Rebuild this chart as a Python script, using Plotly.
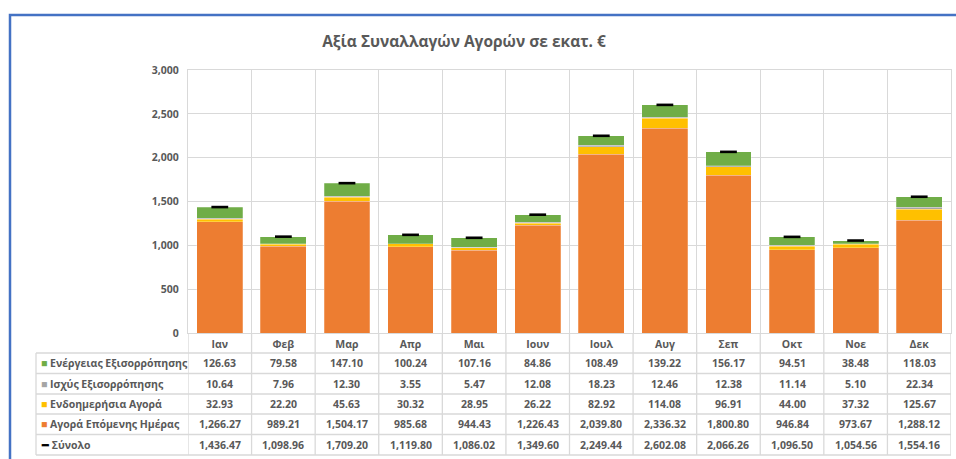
import plotly.graph_objects as go

# μήνες και τιμές (εκατ. €)
months = ['Ιαν', 'Φεβ', 'Μαρ', 'Απρ', 'Μαι', 'Ιουν', 'Ιουλ', 'Αυγ', 'Σεπ', 'Οκτ', 'Νοε', 'Δεκ']
energeia = [126.63, 79.58, 147.10, 100.24, 107.16, 84.86, 108.49, 139.22, 156.17, 94.51, 38.48, 118.03]
isxys = [10.64, 7.96, 12.30, 3.55, 5.47, 12.08, 18.23, 12.46, 12.38, 11.14, 5.10, 22.34]
endohm = [32.93, 22.20, 45.63, 30.32, 28.95, 26.22, 82.92, 114.08, 96.91, 44.00, 37.32, 125.67]
agora = [1266.27, 989.21, 1504.17, 985.68, 944.43, 1226.43, 2039.80, 2336.32, 1800.80, 946.84, 973.67, 1288.12]
synolo = [1436.47, 1098.96, 1709.20, 1119.80, 1086.02, 1349.60, 2249.44, 2602.08, 2066.26, 1096.50, 1054.56, 1554.16]

names = ['Ενέργειας Εξισορρόπησης', 'Ισχύς Εξισορρόπησης', 'Ενδοημερήσια Αγορά',
         'Αγορά Επόμενης Ημέρας', 'Σύνολο']

GREEN, GRAY, YELLOW, ORANGE = '#70AD47', '#A5A5A5', '#FFC000', '#ED7D31'
TXT = '#595959'
GRID = '#D9D9D9'
FONT = 'Open Sans'

# περιοχή γραφήματος σε pixels
W, H = 956, 459
L, R, T, B = 188, 951, 70, 333


def px_y(p):
    return (B - p) / (B - T)


def px_x(p):
    return (p - L) / (R - L)


fig = go.Figure()
bar_line = dict(color='rgba(255,255,255,0.3)', width=0.8)
fig.add_trace(go.Bar(x=months, y=agora, name=names[3], marker=dict(color=ORANGE, line=bar_line)))
fig.add_trace(go.Bar(x=months, y=endohm, name=names[2], marker=dict(color=YELLOW, line=bar_line)))
fig.add_trace(go.Bar(x=months, y=isxys, name=names[1], marker=dict(color=GRAY, line=bar_line)))
fig.add_trace(go.Bar(x=months, y=energeia, name=names[0], marker=dict(color=GREEN, line=bar_line)))
fig.add_trace(go.Scatter(x=months, y=synolo, name=names[4], mode='markers',
                         marker=dict(symbol='line-ew', size=12, color='black',
                                     line=dict(color='black', width=2.6))))

shapes = []
# πλαίσιο
shapes.append(dict(type='rect', xref='paper', yref='paper', x0=px_x(10), x1=px_x(990),
                   y0=px_y(500), y1=px_y(15), line=dict(color='#4472C4', width=2.5), layer='below'))
# γραμμές πίνακα
row_lines = [353, 373.5, 394, 414, 434.5, 455]
for p in row_lines:
    shapes.append(dict(type='line', xref='paper', yref='paper', x0=px_x(36), x1=1,
                       y0=px_y(p), y1=px_y(p), line=dict(color=GRID, width=1.3)))
shapes.append(dict(type='line', xref='paper', yref='paper', x0=px_x(36), x1=px_x(36),
                   y0=px_y(353), y1=px_y(455), line=dict(color=GRID, width=1.3)))
for i in range(len(months) + 1):
    shapes.append(dict(type='line', xref='x', yref='paper', x0=i - 0.5, x1=i - 0.5,
                       y0=px_y(B), y1=px_y(455), line=dict(color=GRID, width=1.3)))

# κείμενα πίνακα
rows = [energeia, isxys, endohm, agora, synolo]
keys = [GREEN, GRAY, YELLOW, ORANGE, 'black']
cell_font = dict(family=FONT, size=10.5, color=TXT, weight='bold')
annotations = []
for r, (vals, name, kc) in enumerate(zip(rows, names, keys)):
    yc = px_y((row_lines[r] + row_lines[r + 1]) / 2)
    key = '■' if r < 4 else '━'
    annotations.append(dict(xref='paper', yref='paper', x=px_x(39), y=yc, xanchor='left',
                            yanchor='middle', showarrow=False,
                            text=f'<span style="color:{kc}">{key}</span> {name}',
                            font=dict(family=FONT, size=10.5, color=TXT, weight='bold')))
    for m, v in zip(months, vals):
        annotations.append(dict(xref='x', yref='paper', x=m, y=yc, xanchor='center',
                                yanchor='middle', showarrow=False, text=f'{v:,.2f}',
                                font=cell_font))

fig.update_layout(
    width=W, height=H,
    margin=dict(l=L, r=W - R, t=T, b=H - B),
    paper_bgcolor='white', plot_bgcolor='white',
    barmode='stack', bargap=0.28,
    showlegend=False,
    title=dict(text='<b>Αξία Συναλλαγών Αγορών σε εκατ. €</b>', xref='container', x=464 / W,
               yref='container', y=1 - 42 / H, xanchor='center', yanchor='middle',
               font=dict(family=FONT, size=15.5, color=TXT)),
    font=dict(family=FONT, size=11, color=TXT),
    shapes=shapes,
    annotations=annotations,
)
fig.update_xaxes(tickson='boundaries', showgrid=True, gridcolor=GRID, gridwidth=1.3,
                 showline=True, mirror=True, linecolor=GRID, linewidth=1.3,
                 ticks='', ticklabelstandoff=1, range=[-0.5, 11.5],
                 tickfont=dict(family=FONT, size=10.5, color=TXT, weight='bold'))
fig.update_yaxes(range=[0, 3000], dtick=500, tickformat=',', showgrid=True, gridcolor=GRID,
                 gridwidth=1.3, showline=True, mirror=True, linecolor=GRID, linewidth=1.3,
                 zeroline=False, ticks='', ticklabelstandoff=6,
                 tickfont=dict(family=FONT, size=10.5, color=TXT, weight='bold'))

# χωρίς περιθώριο στη σελίδα, ώστε το γράφημα να ξεκινά στη γωνία
fig.write_html("out.html", config={'displayModeBar': False},
               post_script="document.body.style.margin='0';")
